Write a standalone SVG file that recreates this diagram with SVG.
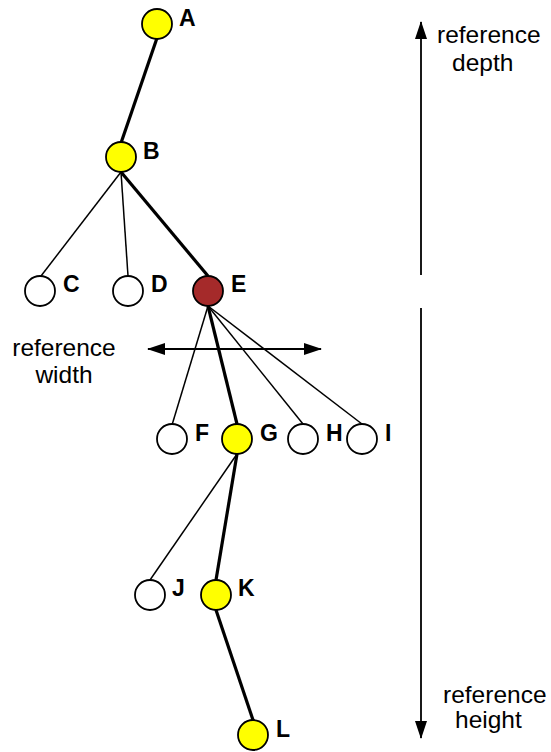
<svg xmlns="http://www.w3.org/2000/svg" width="551" height="752" viewBox="0 0 551 752">
<style>
.n{stroke:#000;stroke-width:1.8}
.y{fill:#ffff00}.w{fill:#fff}.r{fill:#a52a2a}
.lb{font-family:"Liberation Sans",Arial,sans-serif;font-weight:bold;font-size:23px;fill:#000}
.t{font-family:"Liberation Sans",Arial,sans-serif;font-size:24.5px;fill:#000}
.thick{stroke:#000;stroke-width:3.2;fill:none}
.thin{stroke:#000;stroke-width:1.5;fill:none}
.ax{stroke:#000;stroke-width:1.8;fill:none}
</style>
<defs>
<marker id="ah" viewBox="0 0 18 12" refX="17" refY="6" markerWidth="18" markerHeight="12" markerUnits="userSpaceOnUse" orient="auto-start-reverse">
<path d="M0,0 L18,6 L0,12 Z" fill="#000"/>
</marker>
</defs>
<g id="connectors">
<line class="thick" x1="157" y1="38" x2="121" y2="143"/>
<line class="thin" x1="121" y1="172" x2="41" y2="276"/>
<line class="thin" x1="121" y1="172" x2="128" y2="276"/>
<line class="thick" x1="121" y1="172" x2="208" y2="276"/>
<line class="thin" x1="208" y1="306" x2="172" y2="425"/>
<line class="thick" x1="208" y1="306" x2="237" y2="424"/>
<line class="thin" x1="208" y1="306" x2="303" y2="424"/>
<line class="thin" x1="208" y1="306" x2="362" y2="424"/>
<line class="thin" x1="237" y1="454" x2="150" y2="580"/>
<line class="thick" x1="237" y1="454" x2="216" y2="580"/>
<line class="thick" x1="216" y1="610" x2="253" y2="720"/>
</g>
<g id="nodeA"><circle class="n y" cx="157" cy="24" r="15"/><text class="lb" x="179" y="26">A</text></g>
<g id="nodeB"><circle class="n y" cx="121" cy="157" r="15"/><text class="lb" x="143" y="159">B</text></g>
<g id="nodeC"><circle class="n w" cx="40" cy="291" r="15"/><text class="lb" x="63" y="292">C</text></g>
<g id="nodeD"><circle class="n w" cx="128" cy="291" r="15"/><text class="lb" x="151" y="292">D</text></g>
<g id="nodeE"><circle class="n r" cx="208" cy="291" r="15"/><text class="lb" x="231" y="292">E</text></g>
<g id="nodeF"><circle class="n w" cx="172" cy="439" r="15"/><text class="lb" x="195" y="441">F</text></g>
<g id="nodeG"><circle class="n y" cx="237" cy="439" r="15"/><text class="lb" x="260" y="441">G</text></g>
<g id="nodeH"><circle class="n w" cx="303" cy="439" r="15"/><text class="lb" x="326" y="441">H</text></g>
<g id="nodeI"><circle class="n w" cx="362" cy="439" r="15"/><text class="lb" x="385" y="441">I</text></g>
<g id="nodeJ"><circle class="n w" cx="150" cy="595" r="15"/><text class="lb" x="172" y="596">J</text></g>
<g id="nodeK"><circle class="n y" cx="216" cy="595" r="15"/><text class="lb" x="238" y="596">K</text></g>
<g id="nodeL"><circle class="n y" cx="253" cy="735" r="15"/><text class="lb" x="276" y="737">L</text></g>
<g id="refWidth">
<line class="ax" x1="148" y1="349" x2="321" y2="349" marker-start="url(#ah)" marker-end="url(#ah)"/>
<text class="t" x="64" y="356" text-anchor="middle">reference</text>
<text class="t" x="64" y="383" text-anchor="middle">width</text>
</g>
<g id="refDepth">
<line class="ax" x1="421" y1="275" x2="421" y2="22" marker-end="url(#ah)"/>
<text class="t" x="437" y="43">reference</text>
<text class="t" x="452" y="71">depth</text>
</g>
<g id="refHeight">
<line class="ax" x1="421" y1="308" x2="421" y2="738" marker-end="url(#ah)"/>
<text class="t" x="443" y="703">reference</text>
<text class="t" x="455" y="728">height</text>
</g>
</svg>
